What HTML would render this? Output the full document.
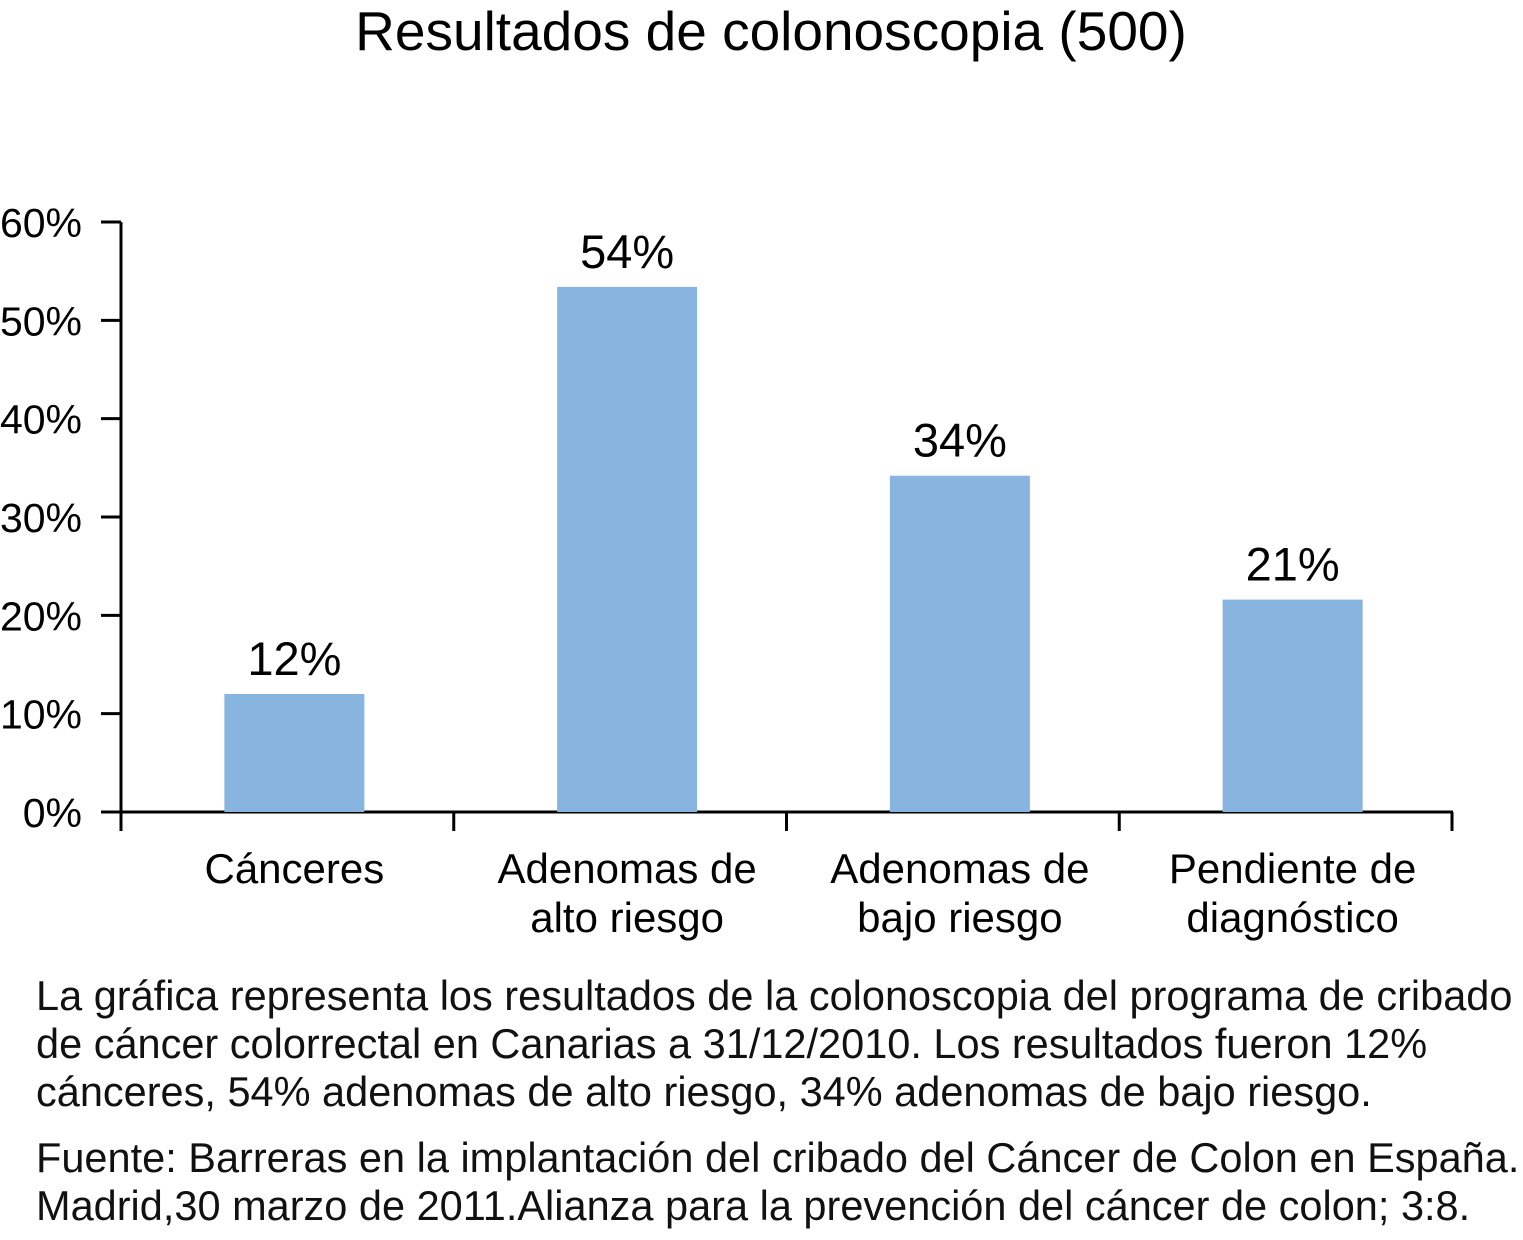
<!DOCTYPE html>
<html><head><meta charset="utf-8"><style>
body{margin:0;background:#fff;width:1523px;height:1240px;overflow:hidden;font-family:"Liberation Sans",Arial,sans-serif}
svg text{font-family:"Liberation Sans",Arial,sans-serif;fill:#000}
.cap{position:absolute;left:36px;font-size:41.5px;line-height:48px;color:#111;white-space:nowrap}
</style></head><body>
<svg id="chart" width="1523" height="960" style="position:absolute;left:0;top:0">
<text x="771" y="50" font-size="55" text-anchor="middle">Resultados de colonoscopia (500)</text>
<g id="g"></g>
</svg>
<div class="cap" style="top:972px">La gráfica representa los resultados de la colonoscopia del programa de cribado<br>de cáncer colorrectal en Canarias a 31/12/2010. Los resultados fueron 12%<br>cánceres, 54% adenomas de alto riesgo, 34% adenomas de bajo riesgo.</div>
<div class="cap" style="top:1134px">Fuente: Barreras en la implantación del cribado del Cáncer de Colon en España.<br>Madrid,30 marzo de 2011.Alianza para la prevención del cáncer de colon; 3:8.</div>
<script>
const categories=[["Cánceres"],["Adenomas de","alto riesgo"],["Adenomas de","bajo riesgo"],["Pendiente de","diagnóstico"]];
const values=[12,53.4,34.2,21.6];
const valueLabels=["12%","54%","34%","21%"];
const yTicks=[0,10,20,30,40,50,60];
const NS="http://www.w3.org/2000/svg",g=document.getElementById('g');
const x0=121,x1=1452,yBase=812,yTop=222,yMax=60;
const y=v=>yBase-(v/yMax)*(yBase-yTop);
const band=(x1-x0)/categories.length;
function mk(t,a,txt){const e=document.createElementNS(NS,t);for(const k in a)e.setAttribute(k,a[k]);if(txt!=null)e.textContent=txt;g.appendChild(e);return e;}
let e=mk('line',{x1:x0,y1:yTop,x2:x0,y2:yBase,stroke:'#000','stroke-width':3});

e=mk('line',{x1:x0-1,y1:yBase,x2:x1+1,y2:yBase,stroke:'#000','stroke-width':3});

yTicks.forEach(t=>{
 let l=mk('line',{x1:x0-20,y1:y(t),x2:x0,y2:y(t),stroke:'#000','stroke-width':3});
 
 let tx=mk('text',{x:82,y:y(t)+15,'font-size':41,'text-anchor':'end'},t+'%');
 
});
for(let i=0;i<=categories.length;i++){
 let l=mk('line',{x1:x0+i*band,y1:yBase,x2:x0+i*band,y2:yBase+19,stroke:'#000','stroke-width':3});
 
}
values.forEach((v,i)=>{
 const cx=x0+band*(i+0.5)+7,w=140;
 let r=mk('rect',{x:cx-w/2,y:y(v),width:w,height:yBase-y(v),fill:'#87b5df'});
 
 let t=mk('text',{x:cx,y:y(v)-19,'font-size':47,'text-anchor':'middle'},valueLabels[i]);
 
 categories[i].forEach((ln,j)=>{
  let c=mk('text',{x:cx,y:883+j*49,'font-size':42,'text-anchor':'middle'},ln);
  
 });
});
</script>
</body></html>
